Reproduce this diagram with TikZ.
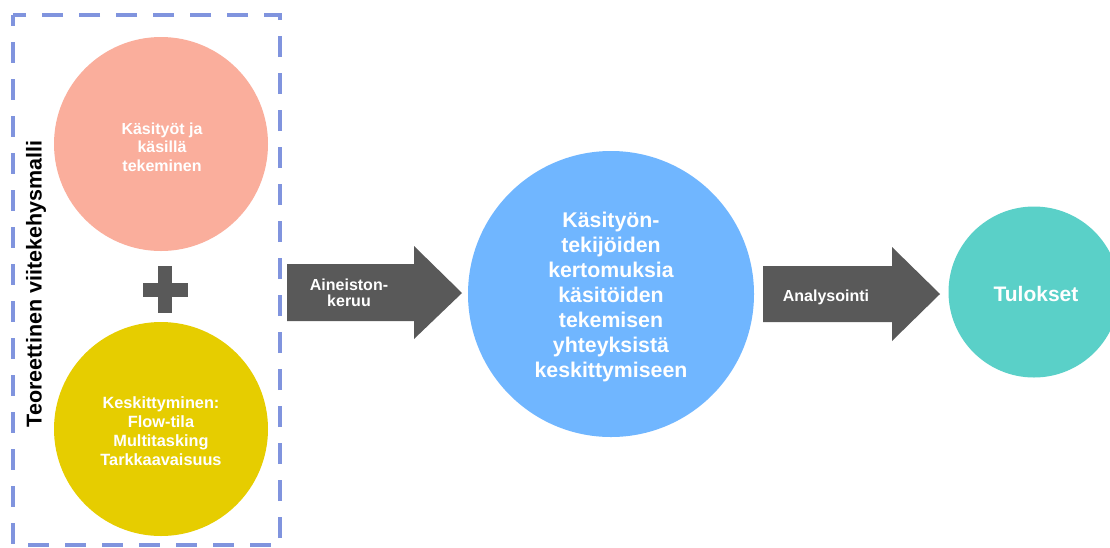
\documentclass[tikz,border=0pt]{standalone}
\usepackage{fontspec}
\setmainfont{Liberation Sans}
\definecolor{pinkc}{RGB}{250,174,156}
\definecolor{yellowc}{RGB}{230,205,0}
\definecolor{bluec}{RGB}{112,182,255}
\definecolor{tealc}{RGB}{90,208,200}
\definecolor{grayc}{RGB}{89,89,89}
\definecolor{dashc}{RGB}{128,148,222}
\begin{document}
\begin{tikzpicture}[x=1pt,y=-1pt,
  bubble/.style={circle,inner sep=0pt,text=white,align=center},
  blockarrow/.style={fill=grayc},
  arrowtext/.style={text=white,align=center,font=\bfseries\fontsize{16}{16.5}\selectfont},
  plusbar/.style={fill=grayc}]
\useasboundingbox (0,0) rectangle (1110,547);
\clip (0,0) rectangle (1110,547);
\fill[white] (0,0) rectangle (1110,547);
% dashed frame
\draw[dashc,line width=3.8pt,dash pattern=on 21pt off 16pt,dash phase=10pt] (13,15) rectangle (280,545);
\node[rotate=90,font=\bfseries\fontsize{21.5}{24}\selectfont] (frame) at (36,284) {Teoreettinen viitekehysmalli};
% circles
\node[bubble,fill=pinkc,minimum size=214pt] (c1) at (161,144) {};
\node[text=white,align=center,font=\bfseries\fontsize{16}{18.5}\selectfont] (t1) at (162,147) {Käsityöt ja\\käsillä\\tekeminen};
\node[bubble,fill=yellowc,minimum size=214pt] (c2) at (161,429) {};
\node[text=white,align=center,font=\bfseries\fontsize{16.3}{19}\selectfont] (t2) at (161,431) {Keskittyminen:\\Flow-tila\\Multitasking\\Tarkkaavaisuus};
% plus
\fill[plusbar] (158,266) rectangle (172,313);
\fill[plusbar] (143,283) rectangle (188,297);
\node[inner sep=0pt] (plus) at (165,290) {};
% blue circle
\node[bubble,fill=bluec,minimum size=286pt] (c3) at (611,294) {};
\node[text=white,align=center,font=\bfseries\fontsize{21.3}{25}\selectfont] (t3) at (611,297) {Käsityön-\\tekijöiden\\kertomuksia\\käsitöiden\\tekemisen\\yhteyksistä\\keskittymiseen};
% teal circle
\node[bubble,fill=tealc,minimum size=171pt] (c4) at (1034,292) {};
\node[text=white,font=\bfseries\fontsize{21}{25}\selectfont] (t4) at (1036,294) {Tulokset};
% arrows
\fill[blockarrow] (287,264) -- (414,264) -- (414,246) -- (462,293) -- (414,339) -- (414,321) -- (287,321) -- cycle;
\node[arrowtext] (a1) at (349,293) {Aineiston-\\keruu};
\fill[blockarrow] (763,266) -- (892,266) -- (892,247) -- (940,294) -- (892,341) -- (892,322) -- (763,322) -- cycle;
\node[arrowtext] (a2) at (826,297) {Analysointi};
\end{tikzpicture}
\end{document}
